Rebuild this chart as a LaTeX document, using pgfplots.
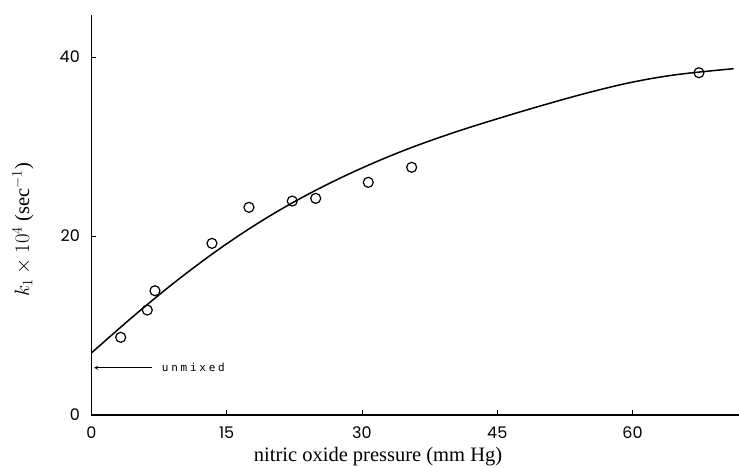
\documentclass[border=0pt]{standalone}
\usepackage{fontspec}
\setmainfont{Liberation Serif}
\newfontfamily\tickfont{Poppins}
\newfontfamily\notefont[LetterSpace=25]{DejaVu Sans Mono}
\usepackage{pgfplots}
\pgfplotsset{compat=1.18}
\usetikzlibrary{arrows.meta}

\begin{document}
\begin{tikzpicture}
\begin{axis}[
    scale only axis,
    width=647.6pt, height=400pt,
    xmin=0, xmax=71.8, ymin=0, ymax=44.7,
    axis x line=bottom, axis y line=left,
    axis line style={-, line width=1.1pt},
    xtick={0,15,30,45,60}, ytick={0,20,40},
    tick align=inside, major tick length=5pt,
    tick style={line width=0.9pt, black},
    /pgf/number format/assume math mode=true,
    ticklabel style={font=\tickfont\fontsize{16}{16}\selectfont},
    xticklabel style={inner sep=0pt, text height=11pt, text depth=0pt, yshift=-12pt},
    yticklabel style={xshift=-8pt},
    xlabel={nitric oxide pressure (mm Hg)},
    ylabel={$k_1\times 10^4$ (sec$^{-1}$)},
    label style={font=\fontsize{20.5}{20.5}\selectfont},
    xlabel style={at={(axis description cs:0.4426,-0.117)}, anchor=base},
    ylabel style={at={(axis description cs:-0.1056,0.4625)}, anchor=center},
    clip=false,
]
% fitted curve (hand-drawn in the original)
\addplot[black, line width=1.5pt, smooth, tension=0.6] coordinates {
(0,6.93) (5,11.33) (10,15.43) (15,19.13) (20,22.38) (25,25.18) (30,27.6)
(35,29.7) (40,31.5) (45,33.1) (50,34.6) (55,36.0) (60,37.2) (65,38.05)
(71.2,38.7)
};
% measured points
\addplot[black, only marks, mark=o, mark size=5pt, mark options={line width=1.2pt, fill=white}] coordinates {
(3.25,8.68) (6.20,11.73) (7.05,13.89) (13.37,19.18) (17.47,23.21)
(22.27,23.91) (24.87,24.21) (30.70,26.0) (35.51,27.68) (67.36,38.25)
};
% unmixed value marker
\draw[line width=0.6pt, -{Stealth[length=4pt,width=4pt,open]}] (axis cs:6.7,5.28) -- (axis cs:0.3,5.28);
\node[anchor=west, inner sep=0pt, font=\notefont\fontsize{11}{11}\selectfont] at (axis cs:7.8,5.28) {unmixed};
\coordinate (bl) at (rel axis cs:-0.1411,-0.13);
\coordinate (tr) at (rel axis cs:1.0,1.0375);
\end{axis}
\pgfresetboundingbox
\path[use as bounding box] (bl) rectangle (tr);
\end{tikzpicture}
\end{document}
